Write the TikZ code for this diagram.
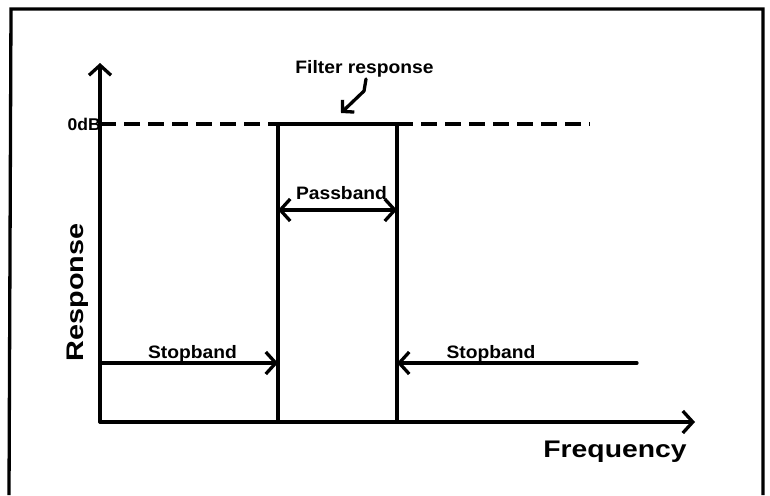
\documentclass[tikz,border=0pt]{standalone}
\usepackage{fontspec}
\setmainfont{Liberation Sans}
\usetikzlibrary{arrows.meta}
\tikzset{
  axbarb/.tip={Straight Barb[length=10pt,width=22pt,line width=3.3pt]},
  frbarb/.tip={Straight Barb[length=8pt,width=17pt,line width=3.3pt]}
}
\begin{document}
\begin{tikzpicture}[x=1pt,y=-1pt,
  ln/.style={line width=3.3pt, line cap=round, line join=round},
  lbl/.style={inner sep=0pt, anchor=base, font=\bfseries\fontsize{18}{21}\selectfont},
  big/.style={inner sep=0pt, anchor=base, font=\bfseries\fontsize{24}{28}\selectfont},
  dashline/.style={line width=3.3pt, dash pattern=on 16pt off 8pt}]
\useasboundingbox (0,0) rectangle (770,495);
% frame
\coordinate (fbl) at (9,495);
\coordinate (ftl) at (11,9);
\coordinate (ftr) at (763,9);
\coordinate (fbr) at (763,495);
\draw[line width=3.3pt] (fbl) -- (ftl) -- (ftr) -- (fbr);
% axes
\coordinate (O) at (100,422);
\coordinate (ytip) at (100,63);
\coordinate (xtip) at (695,422);
\draw[ln,-{axbarb}] (O) -- (ytip);
\draw[ln,-{axbarb}] (O) -- (xtip);
% passband rectangle
\coordinate (p1) at (278,422);
\coordinate (p2) at (278,124);
\coordinate (p3) at (397,124);
\coordinate (p4) at (397,422);
\draw[ln] (p1) -- (p2) -- (p3) -- (p4);
% 0 dB dashed line
\coordinate (d0) at (100,124);
\coordinate (d1) at (590,124);
\draw[dashline] (d0) -- (p2);
\draw[dashline] (p3) -- (d1);
\node[inner sep=0pt, anchor=base east, font=\bfseries\fontsize{17}{20}\selectfont] (zdb) at (101,130) {\scalebox{1.03}[1]{0dB}};
% passband arrow
\coordinate (pbl) at (278,210);
\coordinate (pbr) at (397,210);
\draw[ln,{axbarb}-{axbarb}] (pbl) -- (pbr);
\node[lbl] (pb) at (341.5,199) {\scalebox{1.07}[1]{Passband}};
% stopband arrows
\coordinate (sl0) at (100,363);
\coordinate (sl1) at (278,363);
\draw[ln,-{axbarb}] (sl0) -- (sl1);
\node[lbl] (sbl) at (192.5,358) {\scalebox{1.07}[1]{Stopband}};
\coordinate (sr0) at (637,363);
\coordinate (sr1) at (397,363);
\draw[ln,-{axbarb}] (sr0) -- (sr1);
\node[lbl] (sbr) at (491,358) {\scalebox{1.07}[1]{Stopband}};
% filter response label and arrow
\node[lbl] (fr) at (364.5,73) {\scalebox{1.07}[1]{Filter response}};
\coordinate (fr0) at (366,79);
\coordinate (frb) at (364,91);
\coordinate (fr1) at (341,113);
\draw[ln,-{frbarb}] (fr0) -- (frb) -- (fr1);
% axis titles
\node[big] (fq) at (615,457) {\scalebox{1.18}[1]{Frequency}};
\node[big, rotate=90] (rs) at (83,292.5) {\scalebox{1.2}[1]{Response}};
\end{tikzpicture}
\end{document}
